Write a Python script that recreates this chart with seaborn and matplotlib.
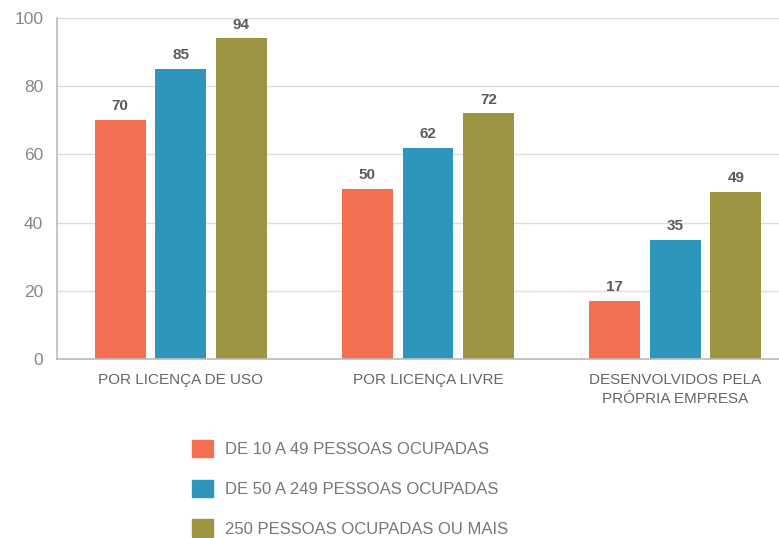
import numpy as np
import pandas as pd
import seaborn as sns
import matplotlib.pyplot as plt

categories = ["POR LICENÇA DE USO", "POR LICENÇA LIVRE", "DESENVOLVIDOS PELA\nPRÓPRIA EMPRESA"]
groups = ["DE 10 A 49 PESSOAS OCUPADAS", "DE 50 A 249 PESSOAS OCUPADAS", "250 PESSOAS OCUPADAS OU MAIS"]
small = [70, 50, 17]
medium = [85, 62, 35]
large = [94, 72, 49]
colors = ["#F26F52", "#2E96BA", "#9C9643"]

df = pd.DataFrame({
    "categoria": categories * 3,
    "porte": np.repeat(groups, 3),
    "valor": small + medium + large,
})

sns.set_theme(style="white")
plt.rcParams["font.family"] = ["Liberation Sans", "DejaVu Sans"]

fig = plt.figure(figsize=(7.79, 5.38), dpi=100)
ax = fig.add_axes([0.0732, 0.3327, 0.9525, 0.6338])

sns.barplot(data=df, x="categoria", y="valor", hue="porte", order=categories,
            hue_order=groups, palette=colors, saturation=1, width=0.735, gap=0.16,
            edgecolor="none", legend=False, ax=ax)

for cont in ax.containers:
    ax.bar_label(cont, padding=5, fontsize=11, fontweight="bold", color="#5a5a5a")

ax.set_xlim(-0.5, 2.5)
ax.set_ylim(0, 100)
ax.set_yticks([0, 20, 40, 60, 80, 100])
ax.yaxis.grid(True, color="#dddddd", linewidth=1)
ax.set_axisbelow(True)
ax.set_xlabel("")
ax.set_ylabel("")

for s in ["top", "right"]:
    ax.spines[s].set_visible(False)
for s in ["left", "bottom"]:
    ax.spines[s].set_color("#bbbbbb")
    ax.spines[s].set_linewidth(1.2)

ax.tick_params(axis="y", labelsize=12.5, labelcolor="#888888", length=0, pad=10)
ax.tick_params(axis="x", labelsize=11, labelcolor="#666666", length=0, pad=10)
for lbl in ax.get_xticklabels():
    lbl.set_linespacing(1.45)
ax.set_xticks([0.5, 1.5], minor=True)
ax.tick_params(axis="x", which="minor", length=5, color="#bbbbbb", width=1.2, direction="out")

handles = [plt.Rectangle((0, 0), 1, 1, color=c) for c in colors]
fig.legend(handles, groups, loc="upper left", bbox_to_anchor=(0.236, 0.198),
           bbox_transform=fig.transFigure, frameon=False, fontsize=12,
           labelcolor="#777777", handlelength=1.25, handleheight=1.25,
           handletextpad=0.7, labelspacing=1.33, borderpad=0)

fig.savefig("out.png", dpi=100)
